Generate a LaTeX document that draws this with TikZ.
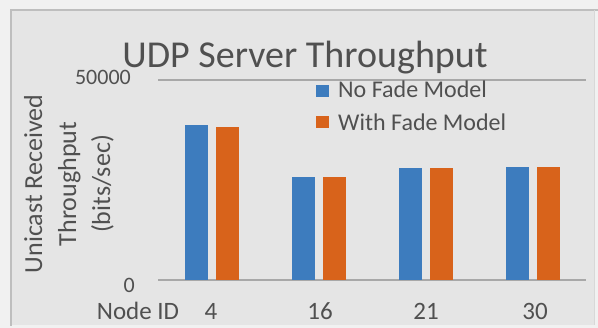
\documentclass[tikz,border=0pt]{standalone}
\usepackage{fontspec}
\setmainfont{Carlito}
\definecolor{pagebg}{HTML}{F1F1F1}
\definecolor{chartbg}{HTML}{E5E5E5}
\definecolor{framegray}{HTML}{BEBEBE}
\definecolor{gridgray}{HTML}{A8A8A8}
\definecolor{textgray}{HTML}{505050}
\definecolor{serA}{HTML}{3D7CBE}
\definecolor{serB}{HTML}{D8631B}
\tikzset{
  barA/.style={fill=serA},
  barB/.style={fill=serB},
  gridline/.style={draw=gridgray, line width=1.2pt},
  ticklbl/.style={text=textgray, font=\fontsize{22}{24}\selectfont, inner sep=0pt},
  catlbl/.style={text=textgray, font=\fontsize{25}{28}\selectfont, inner sep=0pt, anchor=base},
  legendlbl/.style={text=textgray, font=\fontsize{24}{26}\selectfont, inner sep=0pt, anchor=base west},
}
\begin{document}
\begin{tikzpicture}[x=1pt, y=-1pt]
  % page and chart area
  \fill[pagebg] (0,0) rectangle (598,328);
  \useasboundingbox (0,0) rectangle (598,328);
  \fill[chartbg] (11,10) rectangle (594,325);
  \draw[framegray, line width=2pt] (11,326) -- (11,10) -- (598,10);
  \draw[framegray!60, line width=0.8pt] (594,10) -- (594,325);

  % title
  \node[text=textgray, font=\fontsize{38}{40}\selectfont, inner sep=0pt, anchor=base] (title) at (305,68) {UDP Server Throughput};

  % value axis: gridline at 50000 and base line at 0
  \draw[gridline] (158,80) -- (586,80);
  \draw[gridline] (158,280) -- (586,280);
  \node[ticklbl, anchor=base east] (t50k) at (131,85) {50000};
  \node[ticklbl, anchor=base east] (t0) at (135,293) {0};

  % axis title
  \node[text=textgray, font=\fontsize{26}{34}\selectfont, rotate=90, align=center, inner sep=0pt] (ytitle) at (69,184)
    {Unicast Received\\Throughput\\(bits/sec)};

  % bars: 0 at y=280, 50000 at y=80
  \fill[barA] (185,280) rectangle (208,125);
  \fill[barB] (216,280) rectangle (239,127);
  \fill[barA] (292,280) rectangle (315,177);
  \fill[barB] (323,280) rectangle (346,177);
  \fill[barA] (399,280) rectangle (422,168);
  \fill[barB] (430,280) rectangle (453,168);
  \fill[barA] (506,280) rectangle (529,167);
  \fill[barB] (537,280) rectangle (560,167);

  % category labels
  \node[catlbl] (xname) at (138,320) {Node ID};
  \node[catlbl] (c4) at (211,320) {4};
  \node[catlbl] (c16) at (320,320) {16};
  \node[catlbl] (c21) at (426,320) {21};
  \node[catlbl] (c30) at (535,320) {30};

  % legend
  \fill[barA] (316,85) rectangle (329,97);
  \node[legendlbl] (legA) at (338,98) {No Fade Model};
  \fill[barB] (316,116) rectangle (329,128);
  \node[legendlbl] (legB) at (338,131) {With Fade Model};
\end{tikzpicture}
\end{document}
